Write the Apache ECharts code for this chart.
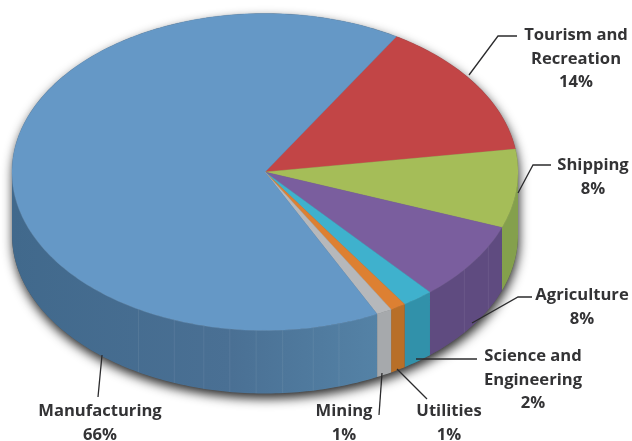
<!DOCTYPE html>
<html>
<head>
<meta charset="utf-8">
<style>
  html, body { margin: 0; padding: 0; background: #fff; }
  #chart { width: 632px; height: 441px; }
</style>
<script src="https://cdn.jsdelivr.net/npm/echarts@6/dist/echarts.min.js"></script>
</head>
<body>
<div id="chart"></div>
<script>
// pie data, clockwise from the Tourism slice
var categories = ['Tourism and\nRecreation', 'Shipping', 'Agriculture', 'Science and\nEngineering', 'Utilities', 'Mining', 'Manufacturing'];
var shares = [14, 8, 8, 2, 1, 1, 66];

var topColors = ['#c24546', '#a5bd58', '#7a5e9e', '#3fb1cd', '#dd8032', '#b6b8bb', '#6598c6'];
var wallColors = ['#99383a', '#84a04c', '#5f4b80', '#3191aa', '#b86f28', '#a6a9ac', '#4a7296'];

// where each callout sits: text centre x, first line y, leader polyline
var callouts = [
    { x: 576, y: 35.5, line: [[469, 75], [498, 36], [517, 36]] },
    { x: 593, y: 165.5, line: [[518, 193], [533, 165], [551, 165]] },
    { x: 582, y: 295.5, line: [[472, 323], [518, 297], [532, 297]] },
    { x: 533, y: 356.5, line: [[416, 359], [477, 359]] },
    { x: 449, y: 411.5, line: [[397, 369], [427, 399]] },
    { x: 344, y: 411.5, line: [[382, 373], [379, 415]] },
    { x: 100, y: 411.5, line: [[102, 355], [98, 397]] }
];

// faint facet lines on the side wall, degrees clockwise from 12 o'clock
var seamAngles = [118, 128, 163, 169, 176, 182, 188, 194, 201, 210];

var cx = 265, cy = 172, rx = 253, ry = 158.5, depth = 63;
var startDeg = 31.3;
var total = shares.reduce(function (a, b) { return a + b; }, 0);

function pt(deg, drop) {
    var r = deg * Math.PI / 180;
    return [cx + rx * Math.sin(r), cy - ry * Math.cos(r) + (drop || 0)];
}

function arc(from, to, drop) {
    var pts = [];
    var n = Math.max(2, Math.ceil(Math.abs(to - from)));
    for (var i = 0; i <= n; i++) {
        pts.push(pt(from + (to - from) * i / n, drop));
    }
    return pts;
}

function sliceRange(i) {
    var before = shares.slice(0, i).reduce(function (a, b) { return a + b; }, 0);
    return [startDeg + before / total * 360, startDeg + (before + shares[i]) / total * 360];
}

function renderShadow() {
    var outline = arc(90, 270, depth).concat(arc(270, 450, 0));
    return {
        type: 'polygon',
        shape: { points: outline },
        style: { fill: '#555', shadowColor: 'rgba(0,0,0,0.85)', shadowBlur: 11, shadowOffsetX: 1, shadowOffsetY: 5 },
        silent: true
    };
}

function renderWall(params) {
    var i = params.dataIndex;
    var range = sliceRange(i);
    var from = Math.max(range[0], 90), to = Math.min(range[1], 270);
    if (from >= to) return null;
    var fill = wallColors[i];
    if (i === shares.length - 1) {
        // the big slice gets lighter towards the front right
        fill = new echarts.graphic.LinearGradient(0, 0, 1, 0, [
            { offset: 0, color: '#41698c' },
            { offset: 0.6, color: '#4a7094' },
            { offset: 1, color: '#5482a6' }
        ]);
    }
    var children = [{
        type: 'polygon',
        shape: { points: arc(from, to, 0).concat(arc(to, from, depth)) },
        style: { fill: fill }
    }];
    seamAngles.forEach(function (a) {
        if (a > from && a < to) {
            var p = pt(a, 0), q = pt(a, depth);
            children.push({
                type: 'line',
                shape: { x1: p[0], y1: p[1], x2: q[0], y2: q[1] },
                style: { stroke: 'rgba(255,255,255,0.07)', lineWidth: 1 }
            });
        }
    });
    return { type: 'group', silent: true, children: children };
}

function renderTop(params) {
    var range = sliceRange(params.dataIndex);
    return {
        type: 'polygon',
        shape: { points: [[cx, cy]].concat(arc(range[0], range[1], 0)) },
        style: { fill: topColors[params.dataIndex], stroke: topColors[params.dataIndex], lineWidth: 0.4 },
        silent: true
    };
}

function renderCallout(params) {
    var i = params.dataIndex;
    var c = callouts[i];
    return {
        type: 'group',
        silent: true,
        children: [{
            type: 'polyline',
            shape: { points: c.line },
            style: { stroke: '#2b2b2d', lineWidth: 1.3, fill: 'none' }
        }, {
            type: 'text',
            x: c.x,
            y: c.y - 11.75,
            style: {
                text: categories[i] + '\n' + shares[i] + '%',
                font: 'bold 16.6px "Open Sans"',
                lineHeight: 23.5,
                fill: '#333335',
                align: 'center',
                verticalAlign: 'top'
            }
        }]
    };
}

var rows = shares.map(function (v, i) { return [i, v]; });

var myChart = echarts.init(document.getElementById('chart'), null, { renderer: 'canvas' });
myChart.setOption({
    animation: false,
    backgroundColor: '#ffffff',
    series: [
        { type: 'custom', coordinateSystem: 'none', z: 1, data: [[0, total]], renderItem: renderShadow },
        { type: 'custom', coordinateSystem: 'none', z: 2, data: rows, renderItem: renderWall },
        { type: 'custom', coordinateSystem: 'none', z: 3, data: rows, renderItem: renderTop },
        { type: 'custom', coordinateSystem: 'none', z: 4, data: rows, renderItem: renderCallout }
    ]
});
</script>
</body>
</html>
